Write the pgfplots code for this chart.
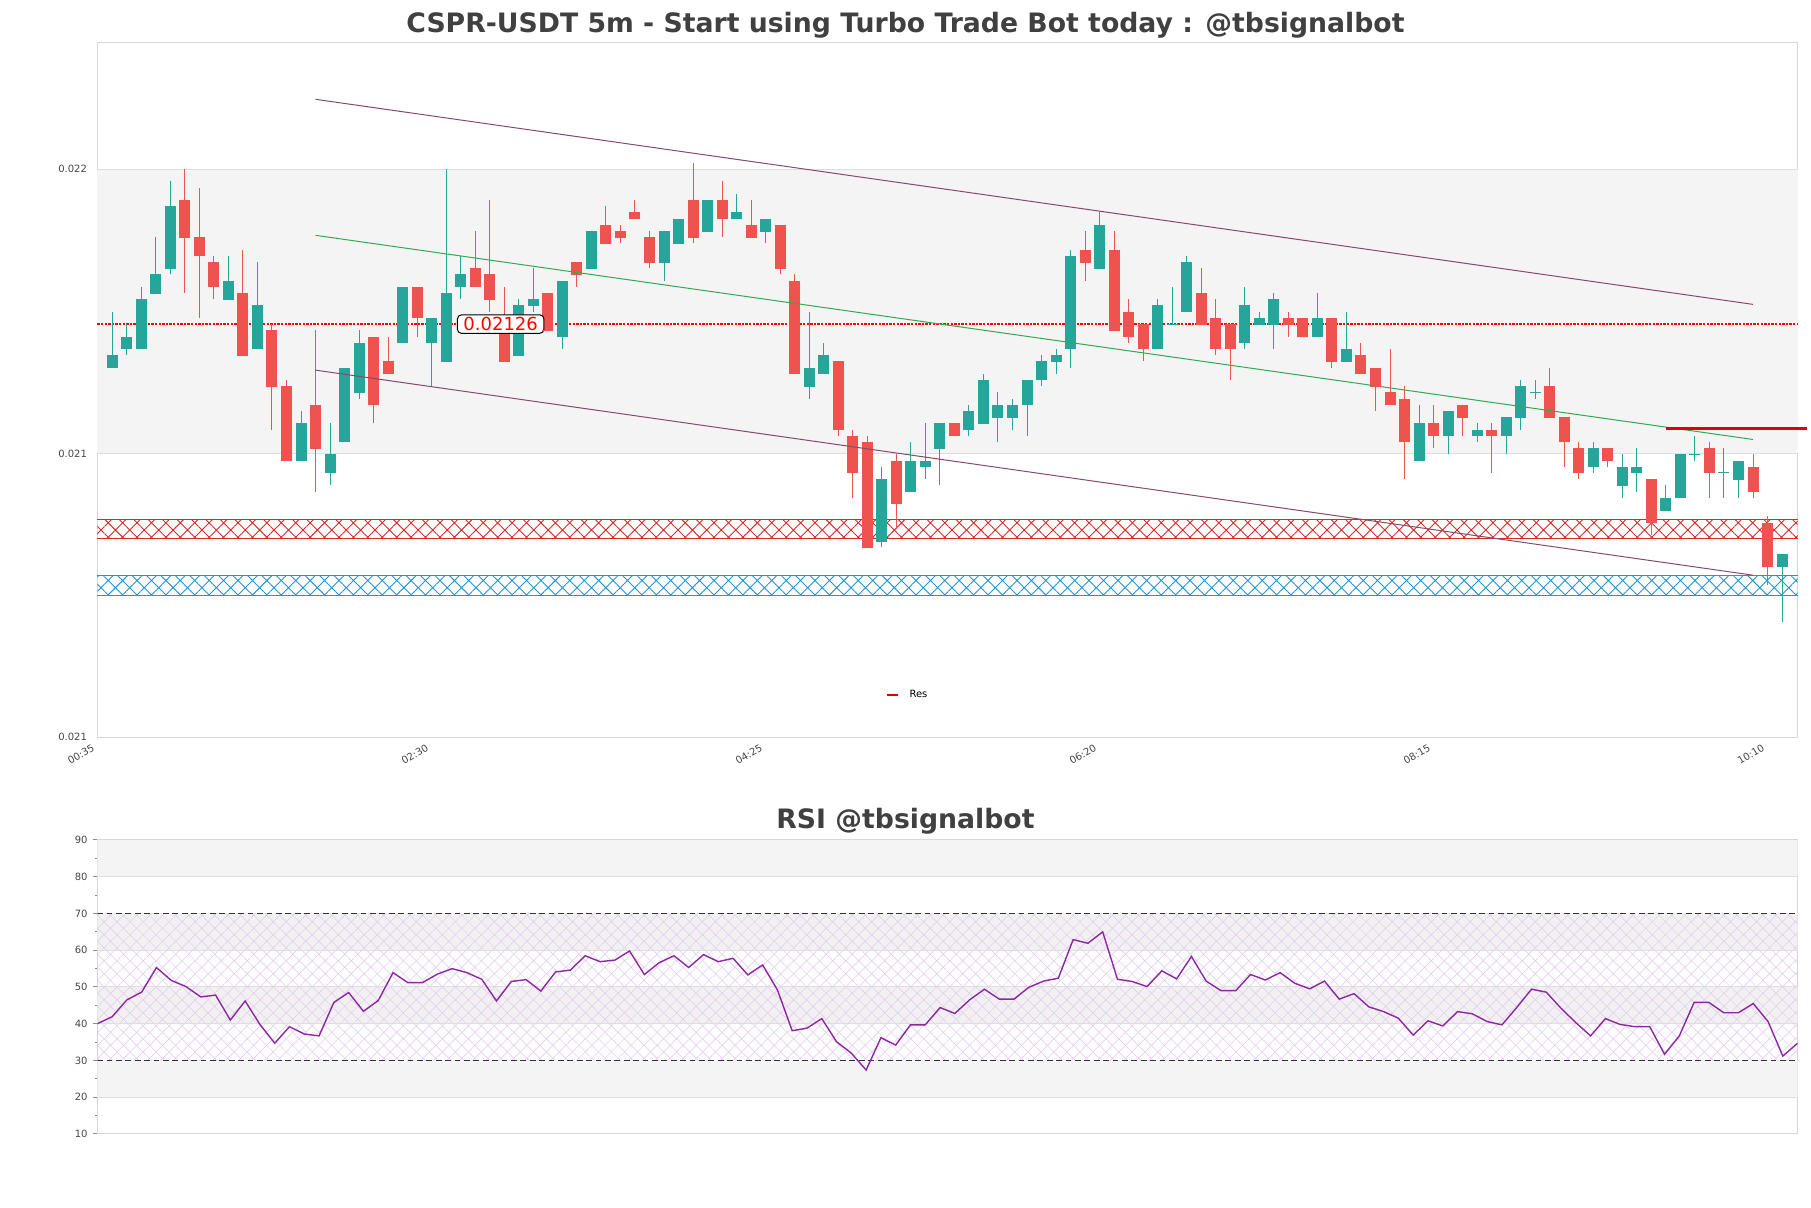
\documentclass[border=0pt]{standalone}
\usepackage{fontspec}
\setmainfont{DejaVu Sans}
\usepackage{pgfplots}
\usepackage{pgfplotstable}
\pgfplotsset{compat=1.18}
\usetikzlibrary{patterns.meta}

\definecolor{cgreen}{RGB}{38,166,154}
\definecolor{cred}{RGB}{239,83,80}
\definecolor{bandcol}{RGB}{244,244,244}
\definecolor{gridcol}{RGB}{222,222,222}
\definecolor{spinecol}{RGB}{215,215,215}
\definecolor{tickcol}{RGB}{70,70,70}
\definecolor{titlecol}{RGB}{64,64,64}
\definecolor{hred}{RGB}{220,40,40}
\definecolor{hblue}{RGB}{30,150,215}
\definecolor{chan}{RGB}{135,75,105}
\definecolor{chanmid}{RGB}{50,170,80}
\definecolor{cres}{RGB}{225,0,0}
\definecolor{rsiline}{RGB}{140,40,160}
\definecolor{rsihatch}{RGB}{224,204,234}

% candles, index from 00:35 in 5m steps: x open high low close
\pgfplotstableread{
x o h l c
1 0.02119 0.02128 0.02119 0.02121
2 0.02122 0.02126 0.02121 0.02124
3 0.02122 0.02132 0.02122 0.02130
4 0.02131 0.02140 0.02131 0.02134
5 0.02135 0.02149 0.02134 0.02145
9 0.02130 0.02137 0.02130 0.02133
11 0.02122 0.02136 0.02122 0.02129
14 0.02104 0.02112 0.02104 0.02110
16 0.02102 0.02110 0.02100 0.02105
17 0.02107 0.02119 0.02107 0.02119
18 0.02115 0.02125 0.02114 0.02123
21 0.02123 0.02132 0.02123 0.02132
23 0.02123 0.02127 0.02116 0.02127
24 0.02120 0.02151 0.02120 0.02131
25 0.02132 0.02137 0.02130 0.02134
29 0.02121 0.02130 0.02121 0.02129
30 0.02129 0.02135 0.02128 0.02130
32 0.02124 0.02133 0.02122 0.02133
34 0.02135 0.02141 0.02135 0.02141
39 0.02136 0.02141 0.02133 0.02141
40 0.02139 0.02143 0.02139 0.02143
42 0.02141 0.02146 0.02141 0.02146
44 0.02143 0.02147 0.02143 0.02144
46 0.02141 0.02143 0.02139 0.02143
49 0.02116 0.02128 0.02114 0.02119
50 0.02118 0.02123 0.02118 0.02121
54 0.02091 0.02103 0.02090 0.02101
56 0.02099 0.02107 0.02099 0.02104
57 0.02103 0.02110 0.02101 0.02104
58 0.02106 0.02110 0.02100 0.02110
60 0.02109 0.02113 0.02108 0.02112
61 0.02110 0.02118 0.02110 0.02117
62 0.02111 0.02115 0.02107 0.02113
63 0.02111 0.02114 0.02109 0.02113
64 0.02113 0.02117 0.02108 0.02117
65 0.02117 0.02121 0.02116 0.02120
66 0.02120 0.02122 0.02118 0.02121
67 0.02122 0.02138 0.02119 0.02137
69 0.02135 0.02144 0.02135 0.02142
73 0.02122 0.02130 0.02122 0.02129
74 0.02126 0.02132 0.02126 0.02126
75 0.02128 0.02137 0.02128 0.02136
79 0.02123 0.02132 0.02122 0.02129
80 0.02126 0.02128 0.02126 0.02127
81 0.02126 0.02131 0.02122 0.02130
84 0.02124 0.02131 0.02124 0.02127
86 0.02120 0.02128 0.02120 0.02122
91 0.02104 0.02113 0.02104 0.02110
93 0.02108 0.02112 0.02105 0.02112
95 0.02108 0.02110 0.02107 0.02109
97 0.02108 0.02111 0.02105 0.02111
98 0.02111 0.02117 0.02109 0.02116
99 0.02115 0.02117 0.02114 0.02115
103 0.02103 0.02107 0.02102 0.02106
105 0.02100 0.02105 0.02098 0.02103
106 0.02102 0.02106 0.02099 0.02103
108 0.02096 0.02100 0.02096 0.02098
109 0.02098 0.02105 0.02098 0.02105
110 0.02105 0.02108 0.02104 0.02105
112 0.02102 0.02106 0.02098 0.02102
113 0.02101 0.02104 0.02098 0.02104
116 0.02087 0.02089 0.02078 0.02089
}\upcandles

\pgfplotstableread{
x o h l c
6 0.02146 0.02151 0.02131 0.02140
7 0.02140 0.02148 0.02127 0.02137
8 0.02136 0.02137 0.02130 0.02132
10 0.02131 0.02138 0.02121 0.02121
12 0.02125 0.02126 0.02109 0.02116
13 0.02116 0.02117 0.02104 0.02104
15 0.02113 0.02125 0.02099 0.02106
19 0.02124 0.02124 0.02110 0.02113
20 0.02120 0.02124 0.02118 0.02118
22 0.02132 0.02132 0.02124 0.02127
26 0.02135 0.02141 0.02132 0.02132
27 0.02134 0.02146 0.02128 0.02130
28 0.02126 0.02132 0.02120 0.02120
31 0.02131 0.02131 0.02125 0.02125
33 0.02136 0.02136 0.02132 0.02134
35 0.02142 0.02145 0.02139 0.02139
36 0.02141 0.02142 0.02139 0.02140
37 0.02144 0.02146 0.02143 0.02143
38 0.02140 0.02141 0.02135 0.02136
41 0.02146 0.02152 0.02139 0.02140
43 0.02146 0.02149 0.02140 0.02143
45 0.02142 0.02146 0.02140 0.02140
47 0.02142 0.02142 0.02134 0.02135
48 0.02133 0.02134 0.02118 0.02118
51 0.02120 0.02120 0.02108 0.02109
52 0.02108 0.02109 0.02098 0.02102
53 0.02107 0.02108 0.02090 0.02090
55 0.02104 0.02105 0.02093 0.02097
59 0.02110 0.02110 0.02108 0.02108
68 0.02138 0.02141 0.02133 0.02136
70 0.02138 0.02141 0.02125 0.02125
71 0.02128 0.02130 0.02123 0.02124
72 0.02126 0.02126 0.02120 0.02122
76 0.02131 0.02135 0.02126 0.02126
77 0.02127 0.02130 0.02121 0.02122
78 0.02126 0.02126 0.02117 0.02122
82 0.02127 0.02128 0.02124 0.02126
83 0.02127 0.02127 0.02124 0.02124
85 0.02127 0.02127 0.02119 0.02120
87 0.02121 0.02123 0.02118 0.02118
88 0.02119 0.02119 0.02112 0.02116
89 0.02115 0.02122 0.02113 0.02113
90 0.02114 0.02116 0.02101 0.02107
92 0.02110 0.02113 0.02106 0.02108
94 0.02113 0.02113 0.02108 0.02111
96 0.02109 0.02110 0.02102 0.02108
100 0.02116 0.02119 0.02111 0.02111
101 0.02111 0.02111 0.02103 0.02107
102 0.02106 0.02107 0.02101 0.02102
104 0.02106 0.02106 0.02103 0.02104
107 0.02101 0.02101 0.02092 0.02094
111 0.02106 0.02107 0.02098 0.02102
114 0.02103 0.02105 0.02098 0.02099
115 0.02094 0.02095 0.02084 0.02087
}\downcandles

\pgfplotstableread{
i rsi
0 40.0
1 41.9
2 46.5
3 48.6
4 55.3
5 51.8
6 50.1
7 47.3
8 47.8
9 41.0
10 46.2
11 39.8
12 34.7
13 39.2
14 37.2
15 36.7
16 45.8
17 48.5
18 43.4
19 46.3
20 53.9
21 51.2
22 51.2
23 53.5
24 55.0
25 53.9
26 52.1
27 46.2
28 51.5
29 52.0
30 48.9
31 54.1
32 54.6
33 58.5
34 56.9
35 57.3
36 59.8
37 53.4
38 56.6
39 58.5
40 55.3
41 58.8
42 56.9
43 57.8
44 53.3
45 56.0
46 49.2
47 38.1
48 38.8
49 41.4
50 35.1
51 32.0
52 27.4
53 36.2
54 34.2
55 39.7
56 39.7
57 44.4
58 42.8
59 46.5
60 49.4
61 46.7
62 46.7
63 49.9
64 51.6
65 52.4
66 62.9
67 61.9
68 65.0
69 52.1
70 51.5
71 50.1
72 54.4
73 52.2
74 58.3
75 51.6
76 49.0
77 49.0
78 53.4
79 51.9
80 53.9
81 51.0
82 49.5
83 51.6
84 46.7
85 48.2
86 44.6
87 43.3
88 41.5
89 36.9
90 40.8
91 39.4
92 43.3
93 42.7
94 40.6
95 39.7
96 44.4
97 49.4
98 48.6
99 44.2
100 40.3
101 36.7
102 41.4
103 39.8
104 39.2
105 39.2
106 31.7
107 36.7
108 45.8
109 45.8
110 43.0
111 43.0
112 45.5
113 40.6
114 31.2
115 34.7
}\rsidata

\begin{document}
\begin{tikzpicture}
\path (0pt,0pt) rectangle (905.5pt,604pt);

\node[anchor=base, text=titlecol, font=\fontsize{13.35}{15}\selectfont\bfseries]
  at (452.75pt,587.8pt) {CSPR-USDT 5m - Start using Turbo Trade Bot today : @tbsignalbot};

\begin{axis}[
  at={(48.65pt,235.35pt)}, anchor=south west,
  scale only axis, width=850.15pt, height=347.15pt,
  xmin=-0.03, xmax=117.07, ymin=0.0205939, ymax=0.0217132,
  clip=false,
  axis line style={spinecol, line width=0.5pt},
  major tick length=0pt,
  xtick={0,23,46,69,92,115},
  xticklabels={00:35,02:30,04:25,06:20,08:15,10:10},
  ytick={0.0205939,0.0210515,0.0215095},
  yticklabels={0.021,0.021,0.022},
  scaled y ticks=false,
  tick label style={font=\fontsize{5}{6}\selectfont, text=tickcol},
  yticklabel style={inner sep=0pt, xshift=-5pt},
  xticklabel style={rotate=30, anchor=north east, inner sep=0pt, xshift=-4.2pt, yshift=-1.2pt},
  legend style={at={(rel axis cs:0.4637,0.0605)}, anchor=west, draw=none, fill=none,
    inner sep=0pt, font=\fontsize{5}{6}\selectfont, nodes={inner sep=0pt}, column sep=5pt},
  legend image code/.code={\draw[cres, line width=1.2pt] (0pt,0pt) -- (5.5pt,0pt);},
]
% background band and grid
\addplot[draw=none, fill=bandcol, forget plot] coordinates {(-0.03,0.0210515) (117.07,0.0210515) (117.07,0.0215095) (-0.03,0.0215095)} -- cycle;
\addplot[gridcol, line width=0.5pt, forget plot] coordinates {(-0.03,0.0210515) (117.07,0.0210515)};
\addplot[gridcol, line width=0.5pt, forget plot] coordinates {(-0.03,0.0215095) (117.07,0.0215095)};

% zones
\addplot[draw=none, pattern={Hatch[angle=45,distance=5.1pt,line width=0.45pt]}, pattern color=hred, forget plot]
  coordinates {(-0.03,0.020914) (117.07,0.020914) (117.07,0.020945) (-0.03,0.020945)} -- cycle;
\addplot[hred, line width=0.5pt, forget plot] coordinates {(-0.03,0.020945) (117.07,0.020945)};
\addplot[hred, line width=0.5pt, forget plot] coordinates {(-0.03,0.020914) (117.07,0.020914)};
\addplot[draw=none, pattern={Hatch[angle=45,distance=5.1pt,line width=0.45pt]}, pattern color=hblue, forget plot]
  coordinates {(-0.03,0.020822) (117.07,0.020822) (117.07,0.020855) (-0.03,0.020855)} -- cycle;
\addplot[hblue, line width=0.5pt, forget plot] coordinates {(-0.03,0.020855) (117.07,0.020855)};
\addplot[hblue, line width=0.5pt, forget plot] coordinates {(-0.03,0.020822) (117.07,0.020822)};

% current price line
\addplot[red, line width=1.2pt, dash pattern=on 1.2pt off 0.6pt, forget plot]
  coordinates {(-0.03,0.02126) (117.07,0.02126)};

% candles: wicks
\addplot[draw=none, mark=none, forget plot,
  error bars/.cd, y dir=plus, y explicit, error mark=none, error bar style={draw=cgreen, line width=0.5pt}]
  table[x=x, y=l, y error expr=\thisrow{h}-\thisrow{l}] {\upcandles};
\addplot[draw=none, mark=none, forget plot,
  error bars/.cd, y dir=plus, y explicit, error mark=none, error bar style={draw=cred, line width=0.5pt}]
  table[x=x, y=l, y error expr=\thisrow{h}-\thisrow{l}] {\downcandles};
% candles: bodies
\addplot[cgreen, only marks, mark=-, mark size=2.75pt, mark options={line width=0.5pt}, forget plot,
  error bars/.cd, y dir=plus, y explicit, error mark=none, error bar style={cgreen, line width=5.5pt}]
  table[x=x, y=o, y error expr=\thisrow{c}-\thisrow{o}] {\upcandles};
\addplot[cred, only marks, mark=-, mark size=2.75pt, mark options={line width=0.5pt}, forget plot,
  error bars/.cd, y dir=plus, y explicit, error mark=none, error bar style={cred, line width=5.5pt}]
  table[x=x, y=c, y error expr=\thisrow{o}-\thisrow{c}] {\downcandles};

% channel
\addplot[chan, line width=0.5pt, forget plot] coordinates {(15,0.0216224) (114,0.0212918)};
\addplot[chanmid, line width=0.5pt, forget plot] coordinates {(15,0.0214031) (114,0.0210740)};
\addplot[chan, line width=0.5pt, forget plot] coordinates {(15,0.0211858) (114,0.0208552)};

% resistance
\addplot[cres, line width=1.3pt] coordinates {(108.0,0.021092) (117.69,0.021092)};
\addlegendentry{Res}

\node[draw=black, fill=white, rounded corners=2pt, text=red, line width=0.5pt,
  font=\fontsize{9}{10}\selectfont, inner xsep=3pt, inner ysep=1.2pt]
  at (axis cs:27.75,0.02126) {0.02126};
\end{axis}

\node[anchor=base, text=titlecol, font=\fontsize{13.35}{15}\selectfont\bfseries]
  at (452.75pt,189.8pt) {RSI @tbsignalbot};

\begin{axis}[
  at={(48.65pt,37pt)}, anchor=south west,
  scale only axis, width=850.15pt, height=147pt,
  xmin=0, xmax=115, ymin=10, ymax=90,
  axis line style={spinecol, line width=0.5pt},
  xtick=\empty,
  ytick={10,20,...,90},
  yticklabels={10,20,30,40,50,60,70,80,90},
  minor ytick={15,25,...,85},
  ytick pos=left, tick align=outside,
  major tick length=2.3pt, minor tick length=1.2pt,
  tick style={black!45, line width=0.5pt},
  tick label style={font=\fontsize{5}{6}\selectfont, text=tickcol},
  yticklabel style={inner sep=0pt, xshift=-2.4pt},
]
\addplot[draw=none, fill=bandcol] coordinates {(0,80) (115,80) (115,90) (0,90)} -- cycle;
\addplot[draw=none, fill=bandcol] coordinates {(0,60) (115,60) (115,70) (0,70)} -- cycle;
\addplot[draw=none, fill=bandcol] coordinates {(0,40) (115,40) (115,50) (0,50)} -- cycle;
\addplot[draw=none, fill=bandcol] coordinates {(0,20) (115,20) (115,30) (0,30)} -- cycle;
\addplot[draw=none, fill=rsiline, fill opacity=0.015] coordinates {(0,30) (115,30) (115,70) (0,70)} -- cycle;
\addplot[draw=none, pattern={Hatch[angle=45,distance=4.6pt,line width=0.25pt]}, pattern color=rsihatch]
  coordinates {(0,30) (115,30) (115,70) (0,70)} -- cycle;
\addplot[gridcol, line width=0.5pt] coordinates {(0,20) (115,20)};
\addplot[gridcol, line width=0.5pt] coordinates {(0,40) (115,40)};
\addplot[gridcol, line width=0.5pt] coordinates {(0,50) (115,50)};
\addplot[gridcol, line width=0.5pt] coordinates {(0,60) (115,60)};
\addplot[gridcol, line width=0.5pt] coordinates {(0,80) (115,80)};
\addplot[black!80, line width=0.5pt, dash pattern=on 2.9pt off 1.8pt] coordinates {(0,70) (115,70)};
\addplot[black!80, line width=0.5pt, dash pattern=on 2.9pt off 1.8pt] coordinates {(0,30) (115,30)};
\addplot[rsiline, line width=0.7pt] table[x=i, y=rsi] {\rsidata};
\end{axis}
\end{tikzpicture}
\end{document}
